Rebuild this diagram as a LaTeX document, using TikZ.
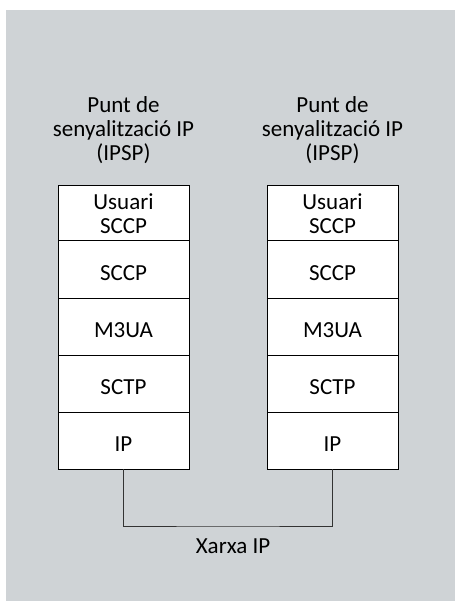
\documentclass[tikz,border=0pt]{standalone}
\usepackage{fontspec}
\setmainfont{Carlito}
\usetikzlibrary{positioning}
\definecolor{fons}{RGB}{207,211,214}
\tikzset{%
  layer/.style    = {draw, line width = 1pt, fill = white, rectangle,
    minimum width = 131pt, minimum height = 57pt, outer sep = 0pt,
    inner sep = 0pt, text height = 22pt, text depth = 0pt},
  toplayer/.style = {draw, line width = 1pt, fill = white, rectangle,
    minimum width = 131pt, minimum height = 57pt, outer sep = 0pt,
    inner sep = 0pt, align = center},
  title/.style    = {align = center, inner sep = 0pt, anchor = base},
  net/.style      = {line width = 0.8pt, draw = black!80}
}

\begin{document}
\begin{tikzpicture}[x = 1pt, y = 1pt, font = \fontsize{23}{24}\selectfont]
%background
\useasboundingbox (0,0) rectangle (455,-601);
\fill[fons] (6,-10) rectangle (455,-601);
%titles
\node[title] (puntA) at (123.5,-161) {Punt de\\senyalització IP\\(IPSP)};
\node[title] (puntB) at (332.5,-161) {Punt de\\senyalització IP\\(IPSP)};
%left stack
\node[toplayer] (usuA) at (123.5,-214) {Usuari\\SCCP};
\node[layer, below = 0pt of usuA, yshift = 1.5pt] (sccpA) {SCCP};
\node[layer, below = 0pt of sccpA] (m3uaA) {M3UA};
\node[layer, below = 0pt of m3uaA] (sctpA) {SCTP};
\node[layer, below = 0pt of sctpA] (ipA) {IP};
%right stack
\node[toplayer] (usuB) at (332.5,-214) {Usuari\\SCCP};
\node[layer, below = 0pt of usuB, yshift = 1.5pt] (sccpB) {SCCP};
\node[layer, below = 0pt of sccpB] (m3uaB) {M3UA};
\node[layer, below = 0pt of m3uaB] (sctpB) {SCTP};
\node[layer, below = 0pt of sctpB] (ipB) {IP};
%network
\coordinate (xarxa) at (228,-526);
\draw[net] (ipA) |- (xarxa) -| (ipB);
\node[anchor = base, inner sep = 0pt] (lxarxa) at (233,-553) {Xarxa IP};
\end{tikzpicture}
\end{document}
